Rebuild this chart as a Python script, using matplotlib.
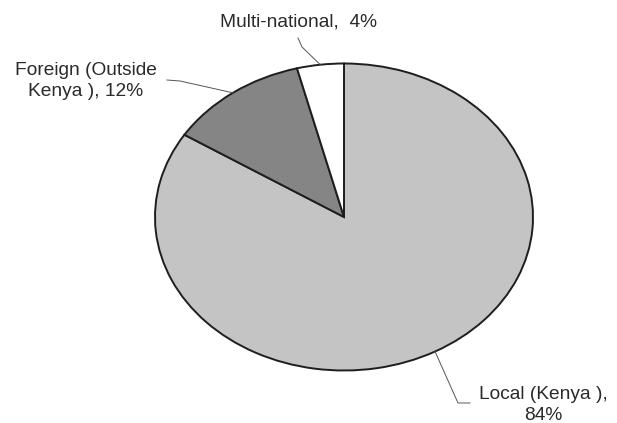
import numpy as np
import matplotlib
matplotlib.use('Agg')
import matplotlib.pyplot as plt

# origin of ownership shares
labels = ['Local (Kenya ),\n84%', 'Foreign (Outside\nKenya ), 12%', 'Multi-national,  4%']
shares = [84, 12, 4]
colors = ['#c4c4c4', '#858585', '#ffffff']

W, H = 617, 423
CX, CY, RX, RY = 344, 217, 189, 153.5   # ellipse in pixels


def px(x, y):
    return (x - CX) / RX, (CY - y) / RY


fig = plt.figure(figsize=(W / 100, H / 100), dpi=100)
ax = fig.add_axes([0, 0, 1, 1])
wedges, _ = ax.pie(shares, colors=colors, startangle=90, counterclock=False,
                   wedgeprops=dict(edgecolor='#1e1e1e', linewidth=1.4))
ax.set_aspect('auto')
ax.set_xlim(-CX / RX, (W - CX) / RX)
ax.set_ylim((CY - H) / RY, CY / RY)
ax.axis('off')

# label layout: text centre, elbow, line end (pixels)
layout = [
    ((543, 405), (458, 403), (470, 403)),
    ((86, 81), (180, 81), (167, 80)),
    ((299, 22), (302, 47), (298, 38)),
]

for w, lab, (tpos, elbow, end) in zip(wedges, labels, layout):
    mid = np.deg2rad((w.theta1 + w.theta2) / 2)
    anchor = (np.cos(mid), np.sin(mid))
    pts = [anchor, px(*elbow), px(*end)]
    ax.plot([p[0] for p in pts], [p[1] for p in pts], color='#555555', lw=0.7)
    ax.text(*px(*tpos), lab, ha='center', va='center', fontsize=13.8,
            family='Liberation Sans', color='#2a2a2a', linespacing=1.25)

fig.savefig('out.png', dpi=100, facecolor='white')
